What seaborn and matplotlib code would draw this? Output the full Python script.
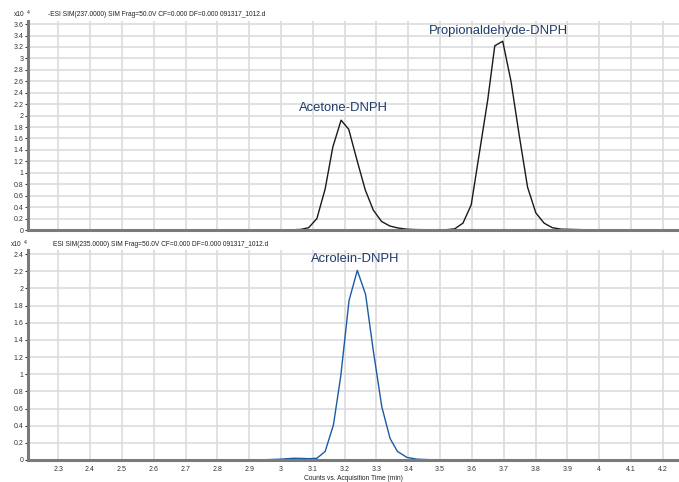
import pandas as pd
import numpy as np
import matplotlib
matplotlib.use("Agg")
import matplotlib.pyplot as plt
import seaborn as sns

# Cromatograma SIM 237 (acetona / propionaldeido), em x10^4 contagens
tempo_237 = [2.205, 2.9, 3.0, 3.04, 3.062, 3.087, 3.113, 3.139, 3.163, 3.189,
             3.213, 3.239, 3.265, 3.29, 3.316, 3.342, 3.368, 3.394, 3.42, 3.45,
             3.52, 3.546, 3.572, 3.598, 3.624, 3.65, 3.672, 3.697, 3.723, 3.749,
             3.775, 3.801, 3.827, 3.853, 3.88, 3.95, 4.1, 4.251]
sinal_237 = [0, 0, 0.002, 0.005, 0.01, 0.04, 0.2, 0.72, 1.45, 1.92,
             1.76, 1.22, 0.70, 0.35, 0.15, 0.07, 0.035, 0.015, 0.008, 0.005,
             0.005, 0.02, 0.12, 0.44, 1.36, 2.28, 3.22, 3.3, 2.6, 1.65,
             0.75, 0.3, 0.12, 0.04, 0.015, 0.005, 0.005, 0.002]

# Cromatograma SIM 235 (acroleina)
tempo_235 = [2.205, 2.9, 2.95, 3.0, 3.04, 3.07, 3.087, 3.113, 3.139, 3.165,
             3.188, 3.214, 3.240, 3.266, 3.29, 3.317, 3.343, 3.366, 3.396,
             3.427, 3.47, 3.6, 4.251]
sinal_235 = [0, 0, 0.003, 0.01, 0.02, 0.018, 0.015, 0.02, 0.1, 0.41,
             0.98, 1.86, 2.21, 1.93, 1.28, 0.62, 0.25, 0.1, 0.03,
             0.01, 0.003, 0.0, 0.0]

titulo_237 = "-ESI SIM(237.0000) SIM Frag=50.0V CF=0.000 DF=0.000 091317_1012.d"
titulo_235 = "ESI SIM(235.0000) SIM Frag=50.0V CF=0.000 DF=0.000 091317_1012.d"

rotulos_237 = ["Acetone-DNPH", "Propionaldehyde-DNPH"]
rotulos_235 = ["Acrolein-DNPH"]

sns.set_style("white")
plt.rcParams['font.family'] = ['Liberation Sans', 'DejaVu Sans']

W, H = 679, 482
fig = plt.figure(figsize=(W / 100, H / 100), dpi=100)

def px(x0, y0, x1, y1):
    return [x0 / W, 1 - y1 / H, (x1 - x0) / W, (y1 - y0) / H]

ax1 = fig.add_axes(px(28, 21.2, 679, 230))
ax2 = fig.add_axes(px(28, 249.8, 679, 460))

df1 = pd.DataFrame({'t': tempo_237, 'y': sinal_237})
df2 = pd.DataFrame({'t': tempo_235, 'y': sinal_235})

sns.lineplot(data=df1, x='t', y='y', ax=ax1, color='#1a1a1a', linewidth=1.0)
sns.lineplot(data=df2, x='t', y='y', ax=ax2, color='#1c5aa6', linewidth=1.0)

cor_texto = '#1f3a6b'
for ax, ymax, yticks in [(ax1, 3.65, np.arange(0, 3.61, 0.2)),
                         (ax2, 2.45, np.arange(0, 2.41, 0.2))]:
    ax.set_xlim(2.205, 4.251)
    ax.set_ylim(0, ymax)
    ax.set_xticks(np.arange(2.3, 4.21, 0.1))
    ax.set_yticks(yticks)
    ax.set_yticklabels([f"{v:g}" for v in np.round(yticks, 1)])
    ax.grid(True, color='#dcdcdc', linewidth=1.2)
    ax.set_axisbelow(True)
    for s in ['top', 'right']:
        ax.spines[s].set_visible(False)
    for s in ['left', 'bottom']:
        ax.spines[s].set_color('#7a7a7a')
        ax.spines[s].set_linewidth(2.2)
    ax.tick_params(axis='y', length=2.5, width=0.8, pad=0.8, labelsize=5,
                   colors='#333333', left=True)
    ax.set_xlabel('')
    ax.set_ylabel('')

ax1.tick_params(axis='x', length=0, labelbottom=False)
ax2.tick_params(axis='x', length=0, pad=4, labelsize=5, colors='#333333')
ax2.set_xticklabels([f"{v:g}" for v in np.round(np.arange(2.3, 4.21, 0.1), 1)])

ax1.text(3.195, 2.08, rotulos_237[0], ha='center', va='baseline',
         fontsize=9.4, color=cor_texto)
ax1.text(3.682, 3.42, rotulos_237[1], ha='center', va='baseline',
         fontsize=9.4, color=cor_texto)
ax2.text(3.233, 2.31, rotulos_235[0], ha='center', va='baseline',
         fontsize=9.4, color=cor_texto)

fig.text(353 / W, 1 - 478 / H, 'Counts vs. Acquisition Time (min)',
         ha='center', va='center', fontsize=4.8, color='#222222')

fig.text(48 / W, 1 - 14 / H, titulo_237, ha='left', va='center',
         fontsize=4.8, color='#222222')
fig.text(53 / W, 1 - 245 / H, titulo_235, ha='left', va='center',
         fontsize=4.8, color='#222222')

for xx, yy in [(14, 15), (11, 245)]:
    fig.text(xx / W, 1 - yy / H, 'x10', ha='left', va='center',
             fontsize=4.8, color='#222222')
    fig.text((xx + 13) / W, 1 - (yy - 3) / H, '4', ha='left', va='center',
             fontsize=3.8, color='#222222')

plt.savefig('out.png', dpi=100)
plt.close()
